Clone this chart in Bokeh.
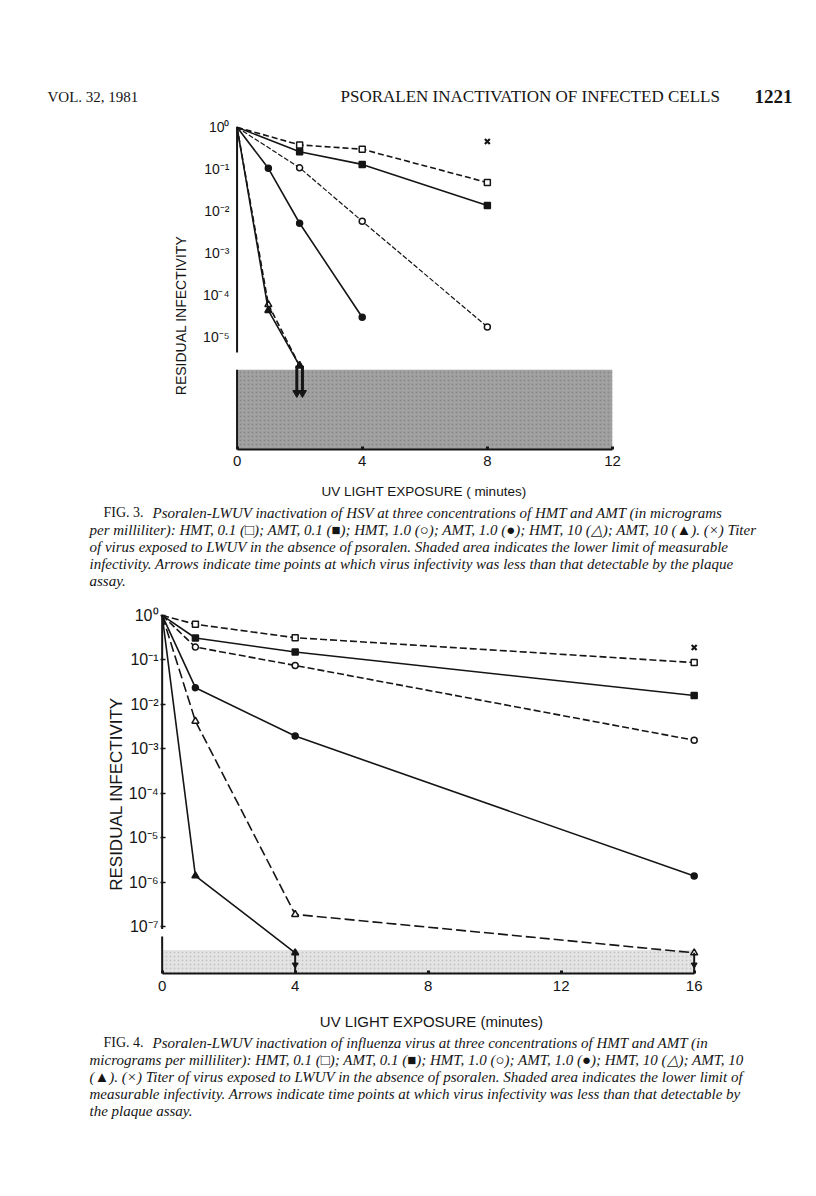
import math
from bokeh.plotting import figure
from bokeh.models import FixedTicker, CustomJSTickFormatter, ColumnDataSource, Range1d
from bokeh.layouts import column, row
from bokeh.embed import file_html
from bokeh.resources import INLINE
from bokeh.transform import dodge
from bokeh.core.properties import value

# ---------------- data: Fig. 3 (HSV) ----------------
f3_hmt01_t = [0, 2, 4, 8]
f3_hmt01_v = [1.0, 0.38, 0.30, 0.048]
f3_amt01_t = [0, 2, 4, 8]
f3_amt01_v = [1.0, 0.26, 0.13, 0.0136]
f3_hmt1_t = [0, 2, 4, 8]
f3_hmt1_v = [1.0, 0.108, 0.0057, 1.7e-5]
f3_amt1_t = [0, 1, 2, 4]
f3_amt1_v = [1.0, 0.105, 0.0051, 2.9e-5]
f3_hmt10_t = [0, 1, 2]
f3_hmt10_v = [1.0, 5.8e-5, 2.0e-6]
f3_amt10_t = [0, 1, 2]
f3_amt10_v = [1.0, 4.2e-5, 2.0e-6]
f3_nopsoralen_t = [8]
f3_nopsoralen_v = [0.46]
f3_limit = 1.6e-6
f3_arrow_t = [2, 2]
f3_arrow_from = [2.0e-6, 2.0e-6]
f3_arrow_to = [4.5e-7, 4.5e-7]
f3_xticks = [0, 4, 8, 12]
f3_yticks = [1, 1e-1, 1e-2, 1e-3, 1e-4, 1e-5]

# ---------------- data: Fig. 4 (influenza) ----------------
f4_hmt01_t = [0, 1, 4, 16]
f4_hmt01_v = [1.0, 0.63, 0.315, 0.087]
f4_amt01_t = [0, 1, 4, 16]
f4_amt01_v = [1.0, 0.31, 0.15, 0.0158]
f4_hmt1_t = [0, 1, 4, 16]
f4_hmt1_v = [1.0, 0.194, 0.075, 0.00156]
f4_amt1_t = [0, 1, 4, 16]
f4_amt1_v = [1.0, 0.0237, 0.00194, 1.38e-6]
f4_hmt10_t = [0, 1, 4, 16]
f4_hmt10_v = [1.0, 0.0042, 1.9e-7, 2.6e-8]
f4_amt10_t = [0, 1, 4]
f4_amt10_v = [1.0, 1.4e-6, 2.6e-8]
f4_nopsoralen_t = [16]
f4_nopsoralen_v = [0.19]
f4_limit = 3.0e-8
f4_arrow_t = [4, 16]
f4_arrow_from = [2.6e-8, 2.6e-8]
f4_arrow_head = [1.4e-8, 1.4e-8]
f4_xticks = [0, 4, 8, 12, 16]
f4_yticks = [1, 1e-1, 1e-2, 1e-3, 1e-4, 1e-5, 1e-6, 1e-7]

# ---------------- texts ----------------
header_left = "VOL. 32, 1981"
header_mid = "PSORALEN INACTIVATION OF INFECTED CELLS"
header_page = "1221"
x_title3 = "UV LIGHT EXPOSURE ( minutes)"
x_title4 = "UV LIGHT EXPOSURE (minutes)"
y_title = "RESIDUAL INFECTIVITY"
cap3_tag = "FIG. 3."
cap3 = [
    "Psoralen-LWUV inactivation of HSV at three concentrations of HMT and AMT (in micrograms",
    "per milliliter): HMT, 0.1 (\u25a1); AMT, 0.1 (\u25a0); HMT, 1.0 (\u25cb); AMT, 1.0 (\u25cf); HMT, 10 (\u25b3); AMT, 10 (\u25b2). (\u00d7) Titer",
    "of virus exposed to LWUV in the absence of psoralen. Shaded area indicates the lower limit of measurable",
    "infectivity. Arrows indicate time points at which virus infectivity was less than that detectable by the plaque",
    "assay.",
]
cap4_tag = "FIG. 4."
cap4 = [
    "Psoralen-LWUV inactivation of influenza virus at three concentrations of HMT and AMT (in",
    "micrograms per milliliter): HMT, 0.1 (\u25a1); AMT, 0.1 (\u25a0); HMT, 1.0 (\u25cb); AMT, 1.0 (\u25cf); HMT, 10 (\u25b3); AMT, 10",
    "(\u25b2). (\u00d7) Titer of virus exposed to LWUV in the absence of psoralen. Shaded area indicates the lower limit of",
    "measurable infectivity. Arrows indicate time points at which virus infectivity was less than that detectable by",
    "the plaque assay.",
]

SANS = "Liberation Sans"
SERIF = "Liberation Serif"
INK = "#151515"

SUP_JS = """
const sup = {"0":"\u2070","1":"\u00b9","2":"\u00b2","3":"\u00b3","4":"\u2074","5":"\u2075",
             "6":"\u2076","7":"\u2077","8":"\u2078","9":"\u2079","-":"\u207b"};
const e = Math.round(Math.log10(tick));
return "10" + String(e).split("").map(c => sup[c]).join("");
"""


def no_align(f):
    if hasattr(f, "frame_align"):
        f.frame_align = False


def text_fig(width, height):
    f = figure(width=width, height=height, x_range=Range1d(0, width), y_range=Range1d(0, height),
               output_backend="svg", toolbar_location=None, min_border=0,
               x_axis_location=None, y_axis_location=None)
    f.grid.visible = False
    f.outline_line_color = None
    no_align(f)
    return f


def put(f, top, x, y_page, text, size, font, style="normal", align="left", angle=0.0):
    f.text(x=[x], y=[top + f.height - y_page], text=[text], text_font=value(font),
           text_font_size=value(f"{size}px"), text_font_style=style, text_align=align,
           text_baseline="middle", text_color=INK, angle=angle)


def make_fig(width, height, xr, yr, bl, br, bt, bb):
    p = figure(width=width, height=height, x_range=xr, y_range=yr, y_axis_type="log",
               output_backend="svg", toolbar_location=None,
               min_border_left=bl, min_border_right=br, min_border_top=bt, min_border_bottom=bb)
    no_align(p)
    p.grid.visible = False
    p.outline_line_color = None
    for ax in (p.xaxis[0], p.yaxis[0]):
        ax.axis_line_width = 2
        ax.axis_line_color = INK
        ax.major_tick_line_color = INK
        ax.minor_tick_line_color = None
        ax.major_label_text_font = SANS
        ax.major_label_text_color = INK
        ax.axis_label_text_font = SANS
        ax.axis_label_text_font_style = "normal"
        ax.axis_label_text_color = INK
    p.yaxis.axis_line_color = None          # drawn as broken segments below
    p.yaxis.formatter = CustomJSTickFormatter(code=SUP_JS)
    p.xaxis.major_tick_in = 3
    p.xaxis.major_tick_out = 0
    p.xaxis.major_tick_line_width = 3
    return p


def series(p, t, v, marker, fill, dash, lw=1.6, size=6):
    p.line(t, v, line_color=INK, line_width=lw, line_dash=dash)
    p.scatter(t[1:], v[1:], marker=marker, size=size, line_color=INK,
              fill_color=fill, line_width=1.5)


# ================= header =================
hdr = text_fig(800, 110)
put(hdr, 0, 47, 96, header_left, 15, SERIF)
put(hdr, 0, 340, 96, header_mid, 17, SERIF)
put(hdr, 0, 754, 96, header_page, 19, SERIF, style="bold")

# ================= Fig. 3 =================
P1_TOP, P1_H = 110, 394
Y3_LO, Y3_HI = 10 ** -7.70, 10 ** 0.02
yt3 = text_fig(190, P1_H)
put(yt3, P1_TOP, 180, 315, y_title, 14, SANS, align="center", angle=math.pi / 2)

p1 = make_fig(610, P1_H, (-0.05, 12), (Y3_LO, Y3_HI), 45, 188, 16, 55)
p1.xaxis.bounds = (f3_xticks[0], f3_xticks[-1])
p1.xaxis.ticker = FixedTicker(ticks=f3_xticks)
p1.yaxis.ticker = FixedTicker(ticks=f3_yticks)
p1.yaxis.major_tick_in = 0
p1.yaxis.major_tick_out = 0
p1.xaxis.major_label_text_font_size = "15px"
p1.yaxis.major_label_text_font_size = "14px"
p1.xaxis.major_label_standoff = 6
p1.yaxis.major_label_standoff = 6
p1.xaxis.axis_label = x_title3
p1.xaxis.axis_label_text_font_size = "13.5px"
p1.xaxis.axis_label_standoff = 15

p1.quad(left=f3_xticks[0], right=f3_xticks[-1], bottom=Y3_LO, top=f3_limit,
        fill_color="#a2a2a2", line_color=None, hatch_pattern=".", hatch_color="#747474",
        hatch_alpha=0.6, hatch_scale=4)
# broken y axis line: upper part down to just above the shaded band, lower part along the band
p1.segment(x0=[0, 0], y0=[Y3_HI, f3_limit], x1=[0, 0], y1=[10 ** -5.38, Y3_LO],
           line_color=INK, line_width=2)

series(p1, f3_hmt01_t, f3_hmt01_v, "square", "white", "6 3")
series(p1, f3_amt01_t, f3_amt01_v, "square", INK, "solid")
series(p1, f3_hmt1_t, f3_hmt1_v, "circle", "white", "5 2", lw=1.2)
series(p1, f3_amt1_t, f3_amt1_v, "circle", INK, "solid")
series(p1, f3_hmt10_t, f3_hmt10_v, "triangle", "white", "6 3", size=7)
series(p1, f3_amt10_t, f3_amt10_v, "triangle", INK, "solid", size=7)
p1.scatter(f3_nopsoralen_t, f3_nopsoralen_v, marker="x", size=7, line_color=INK, line_width=2.2)

for i, dd in enumerate([-0.09, 0.09]):
    src = ColumnDataSource(dict(t=[f3_arrow_t[i]], y0=[f3_arrow_from[i]], y1=[f3_arrow_to[i]]))
    p1.segment(x0=dodge("t", dd, range=p1.x_range), y0="y0", x1=dodge("t", dd, range=p1.x_range),
               y1="y1", source=src, line_color=INK, line_width=3)
    p1.scatter(x=dodge("t", dd, range=p1.x_range), y="y1", source=src, marker="inverted_triangle",
               size=8, fill_color=INK, line_color=INK)

# ================= caption 3 =================
C3_TOP, C3_H = 504, 86
c3 = text_fig(800, C3_H)
put(c3, C3_TOP, 103, 512, cap3_tag, 14, SERIF)
for i, line in enumerate(cap3):
    put(c3, C3_TOP, 152 if i == 0 else 89, 512 + 17 * i, line, 15, SERIF, style="italic")

# ================= Fig. 4 =================
P2_TOP, P2_H = 590, 443
Y4_LO, Y4_HI = 10 ** -8.05, 10 ** 0.02
p2 = make_fig(800, P2_H, (-0.05, 16.25), (Y4_LO, Y4_HI), 160, 98, 24, 60)
p2.xaxis.bounds = (f4_xticks[0], f4_xticks[-1])
p2.xaxis.ticker = FixedTicker(ticks=f4_xticks)
p2.yaxis.ticker = FixedTicker(ticks=f4_yticks)
p2.yaxis.major_tick_in = 5
p2.yaxis.major_tick_out = 0
p2.yaxis.major_tick_line_width = 1.5
p2.xaxis.major_label_text_font_size = "15px"
p2.yaxis.major_label_text_font_size = "16px"
p2.xaxis.major_label_standoff = 7
p2.yaxis.major_label_standoff = 2
p2.xaxis.axis_label = x_title4
p2.xaxis.axis_label_text_font_size = "15px"
p2.xaxis.axis_label_standoff = 19
p2.yaxis.axis_label = y_title
p2.yaxis.axis_label_text_font_size = "17px"
p2.yaxis.axis_label_standoff = 0

p2.quad(left=f4_xticks[0], right=f4_xticks[-1], bottom=Y4_LO, top=f4_limit,
        fill_color="#e4e4e4", line_color=None, hatch_pattern=".", hatch_color="#b0b0b0",
        hatch_alpha=0.6, hatch_scale=4)
p2.segment(x0=[0, 0], y0=[Y4_HI, 10 ** -7.22], x1=[0, 0], y1=[10 ** -7.05, Y4_LO],
           line_color=INK, line_width=2)

series(p2, f4_hmt01_t, f4_hmt01_v, "square", "white", "7 3")
series(p2, f4_amt01_t, f4_amt01_v, "square", INK, "solid")
series(p2, f4_hmt1_t, f4_hmt1_v, "circle", "white", "7 3")
series(p2, f4_amt1_t, f4_amt1_v, "circle", INK, "solid")
series(p2, f4_hmt10_t, f4_hmt10_v, "triangle", "white", "10 4", size=7)
series(p2, f4_amt10_t, f4_amt10_v, "triangle", INK, "solid", size=7)
p2.scatter(f4_nopsoralen_t, f4_nopsoralen_v, marker="x", size=7, line_color=INK, line_width=2.2)

src4 = ColumnDataSource(dict(t=f4_arrow_t, y0=f4_arrow_from, yh=f4_arrow_head,
                             y1=[Y4_LO] * len(f4_arrow_t)))
p2.segment(x0="t", y0="y0", x1="t", y1="y1", source=src4, line_color=INK, line_width=2)
p2.scatter(x="t", y="yh", source=src4, marker="inverted_triangle", size=6,
           fill_color=INK, line_color=INK)

# ================= caption 4 =================
C4_TOP, C4_H = 1033, 157
c4 = text_fig(800, C4_H)
put(c4, C4_TOP, 103, 1042, cap4_tag, 14, SERIF)
for i, line in enumerate(cap4):
    put(c4, C4_TOP, 152 if i == 0 else 89, 1042 + 17 * i, line, 15, SERIF, style="italic")

layout = column(hdr, row(yt3, p1), c3, p2, c4)
open("out.html", "w").write(file_html(layout, INLINE))
